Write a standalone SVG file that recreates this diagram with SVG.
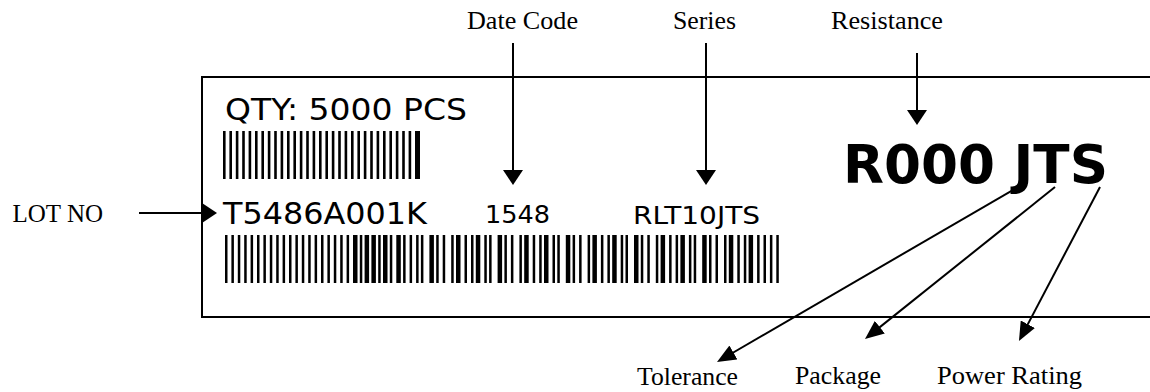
<svg xmlns="http://www.w3.org/2000/svg" width="1150" height="392" viewBox="0 0 1150 392">
<style>
.lbl{font-family:"Liberation Serif","Times New Roman",serif;font-size:25px;fill:#000}
.lab{font-family:"DejaVu Sans",Verdana,sans-serif;fill:#000}
.big{font-family:"DejaVu Sans",Verdana,sans-serif;font-weight:bold;fill:#000}
.con{stroke:#000;stroke-width:2;fill:none}
.bar{stroke:#000;fill:none}
</style>
<defs>
<marker id="ah" markerUnits="userSpaceOnUse" viewBox="0 0 15 20" markerWidth="15" markerHeight="20" refX="10" refY="10" orient="auto">
<path d="M0,0 L15,10 L0,20 z" fill="#000"/>
</marker>
<marker id="ad" markerUnits="userSpaceOnUse" viewBox="0 0 19 16" markerWidth="19" markerHeight="16" refX="14" refY="8" orient="auto">
<path d="M0,0 L19,8 L0,16 z" fill="#000"/>
</marker>
</defs>
<rect width="1150" height="392" fill="#fff"/>
<g id="label-box">
<path d="M1150,77 H202 V317 H1150" fill="none" stroke="#000" stroke-width="2"/>
<text class="lab" x="225" y="120" font-size="30" textLength="242" lengthAdjust="spacingAndGlyphs">QTY: 5000 PCS</text>
<line class="bar" x1="223" y1="155" x2="420" y2="155" stroke-width="48" stroke-dasharray="2.6 3.8 2.6 3.8 2.6 3.8 2.6 3.8 2.6 3.8 2.6 3.8 2.6 3.8 2.6 3.8 2.6 3.8 2.6 3.8 2.6 3.8 2.6 3.8 2.6 3.8 2.6 3.8 2.6 3.8 2.6 3.8 2.6 3.8 2.6 3.8 2.6 3.8 2.6 3.8 2.6 3.8 2.6 3.8 2.6 3.8 2.6 3.8 2.6 3.8 2.6 3.8 2.6 3.8 2.6 3.8 2.6 3.8 2.6 3.8 5 20"/>
<text class="lab" x="223" y="224" font-size="30" textLength="204" lengthAdjust="spacingAndGlyphs">T5486A001K</text>
<text class="lab" x="485" y="223" font-size="24" textLength="65" lengthAdjust="spacingAndGlyphs">1548</text>
<text class="lab" x="633" y="224" font-size="24" textLength="127" lengthAdjust="spacingAndGlyphs">RLT10JTS</text>
<line class="bar" x1="225" y1="259" x2="782" y2="259" stroke-width="48" stroke-dasharray="2.5 3.9 2.5 3.9 2.5 3.9 2.5 3.9 2.5 3.9 2.5 3.9 2.5 3.9 2.5 3.9 2.5 3.9 2.5 3.9 2.5 3.9 2.5 3.9 2.5 3.9 2.5 3.9 2.5 3.9 2.5 3.9 2.5 3.9 2.5 3.9 2.5 3.9 2.5 3.9 4.5 2.3 2.5 2.3 4.5 2.3 4.5 2.3 2.5 2.3 4.5 2.3 2.5 4 4.5 2.3 2.5 4 2.5 4 2.5 2.3 2.5 6 4.5 2.3 2.5 4 2.5 6 2.5 2.3 4.5 4 2.5 4 2.5 2.3 4.5 4 2.5 2.3 2.5 6 4.5 2.3 2.5 4 2.5 6 2.5 2.3 4.5 4 2.5 4 2.5 2.3 4.5 4 2.5 2.3 2.5 6 4.5 2.3 2.5 4 2.5 6 2.5 2.3 4.5 4 2.5 4 2.5 2.3 4.5 4 2.5 2.3 2.5 6 4.5 2.3 2.5 4 2.5 6 2.5 2.3 4.5 4 2.5 4 2.5 2.3 4.5 4 2.5 2.3 2.5 6 4.5 2.3 2.5 4 2.5 6 2.5 2.3 4.5 4 2.5 4 2.5 2.3 4.5 4 2.5 3.9 2.5 3.9 2.5 3.9 2.5 3.9 2.5 20"/>
<text class="big" x="843" y="183" font-size="54" textLength="265" lengthAdjust="spacingAndGlyphs">R000 JTS</text>
</g>
<g id="lot-no"><text class="lbl" x="103" y="222" text-anchor="end" font-size="23">LOT NO</text></g>
<g id="date-code"><text class="lbl" x="467" y="29" textLength="111" lengthAdjust="spacingAndGlyphs">Date Code</text></g>
<g id="series"><text class="lbl" x="673" y="29" textLength="63" lengthAdjust="spacingAndGlyphs">Series</text></g>
<g id="resistance"><text class="lbl" x="831" y="29" textLength="112" lengthAdjust="spacingAndGlyphs">Resistance</text></g>
<g id="tolerance"><text class="lbl" x="637" y="385" textLength="101" lengthAdjust="spacingAndGlyphs">Tolerance</text></g>
<g id="package"><text class="lbl" x="795" y="384" textLength="86" lengthAdjust="spacingAndGlyphs">Package</text></g>
<g id="power-rating"><text class="lbl" x="937" y="384" textLength="145" lengthAdjust="spacingAndGlyphs">Power Rating</text></g>
<g id="connectors">
<line class="con" x1="139" y1="213" x2="212" y2="213" marker-end="url(#ah)"/>
<line class="con" x1="513" y1="43" x2="513" y2="180" marker-end="url(#ah)"/>
<line class="con" x1="706" y1="43" x2="706" y2="180" marker-end="url(#ah)"/>
<line class="con" x1="917" y1="53" x2="917" y2="120" marker-end="url(#ah)"/>
<line class="con" x1="1018" y1="187" x2="721.3" y2="359.5" marker-end="url(#ad)"/>
<line class="con" x1="1055" y1="187" x2="868.9" y2="335.9" marker-end="url(#ad)"/>
<line class="con" x1="1100" y1="187" x2="1021.3" y2="336.6" marker-end="url(#ad)"/>
</g>
</svg>
